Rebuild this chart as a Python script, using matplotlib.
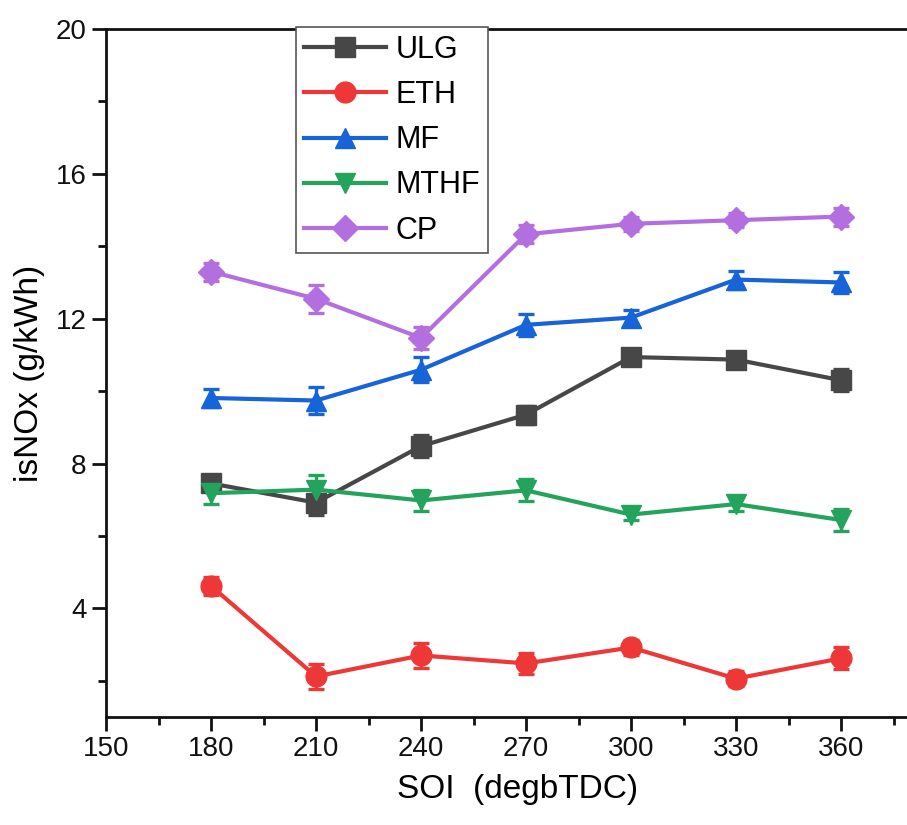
import matplotlib
matplotlib.use("Agg")
import matplotlib.pyplot as plt
from matplotlib.ticker import MultipleLocator

plt.rcParams['font.family'] = ['Liberation Sans', 'DejaVu Sans']

soi = [180, 210, 240, 270, 300, 330, 360]

ulg = [7.45, 6.92, 8.48, 9.35, 10.94, 10.87, 10.30]
ulg_err = [0.20, 0.35, 0.30, 0.25, 0.15, 0.15, 0.30]

eth = [4.62, 2.12, 2.70, 2.48, 2.92, 2.06, 2.62]
eth_err = [0.25, 0.35, 0.35, 0.30, 0.20, 0.20, 0.30]

mf = [9.81, 9.74, 10.59, 11.83, 12.03, 13.08, 13.00]
mf_err = [0.25, 0.38, 0.35, 0.30, 0.20, 0.25, 0.30]

mthf = [7.18, 7.28, 6.98, 7.26, 6.59, 6.88, 6.44]
mthf_err = [0.30, 0.40, 0.30, 0.30, 0.15, 0.20, 0.30]

cp = [13.30, 12.55, 11.47, 14.33, 14.62, 14.72, 14.82]
cp_err = [0.25, 0.38, 0.30, 0.25, 0.20, 0.20, 0.25]

names = ["ULG", "ETH", "MF", "MTHF", "CP"]
colors = ["#474747", "#ee3737", "#1763d8", "#23a35c", "#b36ee0"]
markers = ["s", "o", "^", "v", "D"]
sizes = [14, 15, 14, 14, 13]

fig = plt.figure(figsize=(9.07, 8.25), dpi=100)
ax = fig.add_axes([106 / 907, 108 / 825, 822.5 / 907, 688 / 825])

handles = []
for name, y, e, c, m, s in zip(names, [ulg, eth, mf, mthf, cp],
                               [ulg_err, eth_err, mf_err, mthf_err, cp_err],
                               colors, markers, sizes):
    eb = ax.errorbar(soi, y, yerr=e, color=c, marker=m, markersize=s,
                     linewidth=3.0, elinewidth=2.4, capsize=6, capthick=2.4, label=name)
    handles.append(eb.lines[0])

ax.set_xlim(150, 385)
ax.set_ylim(1, 20)
ax.xaxis.set_major_locator(MultipleLocator(30))
ax.xaxis.set_minor_locator(MultipleLocator(15))
ax.yaxis.set_minor_locator(MultipleLocator(2))
ax.set_yticks([4, 8, 12, 16, 20])

ax.spines['right'].set_visible(False)
for sp in ['left', 'bottom', 'top']:
    ax.spines[sp].set_linewidth(2.0)
    ax.spines[sp].set_color('#111111')

ax.tick_params(which='major', direction='out', length=10, width=2, labelsize=20,
               colors='#111111', pad=4)
ax.tick_params(which='minor', direction='out', length=6, width=2, colors='#111111')
ax.tick_params(top=False, right=False, which='both')

ax.set_xlabel("SOI  (degbTDC)", fontsize=24, labelpad=8)
ax.set_ylabel("isNOx (g/kWh)", fontsize=24, labelpad=8)

leg = ax.legend(handles=handles, labels=names, loc='upper left',
                bbox_to_anchor=(296 / 907, 1 - 27 / 825), bbox_transform=fig.transFigure,
                borderaxespad=0, fontsize=22, handlelength=2.7, handletextpad=0.3,
                labelspacing=0.5, borderpad=0.25, fancybox=False, framealpha=1)
leg.get_frame().set_edgecolor('#555555')
leg.get_frame().set_linewidth(1.2)

fig.savefig("out.png", dpi=100)
